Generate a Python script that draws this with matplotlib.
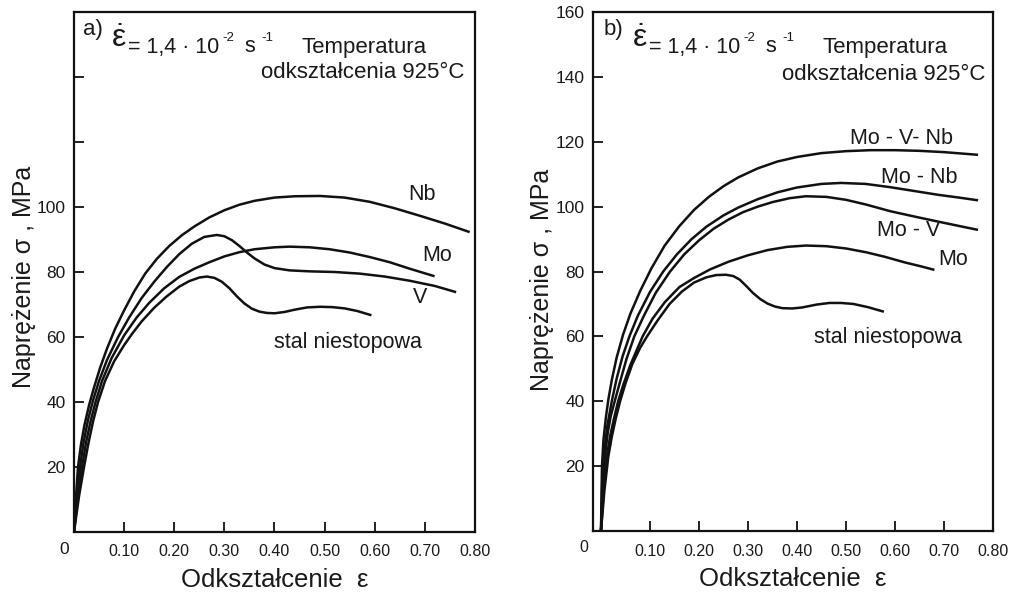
import matplotlib
matplotlib.use("Agg")
import matplotlib.pyplot as plt

plt.rcParams['font.family'] = ['Liberation Sans', 'DejaVu Sans']
plt.rcParams['mathtext.fontset'] = 'custom'
plt.rcParams['mathtext.rm'] = 'Liberation Sans'
plt.rcParams['mathtext.it'] = 'Liberation Sans:italic'
plt.rcParams['mathtext.bf'] = 'Liberation Sans:bold'

# ---------------- Data: panel a ----------------
a_nb_x = [0, 0.004, 0.008, 0.014, 0.021, 0.03, 0.04, 0.052, 0.066, 0.082, 0.1, 0.12, 0.142, 0.165, 0.19, 0.215, 0.24, 0.27, 0.3, 0.33, 0.36, 0.4, 0.44, 0.49, 0.54, 0.59, 0.64, 0.69, 0.74, 0.787]
a_nb_y = [0, 11, 20, 27, 33, 39, 44.5, 50.5, 56.5, 62.5, 68.2, 74, 79.5, 84, 88, 91.3, 94, 96.8, 99, 100.7, 101.9, 102.9, 103.3, 103.4, 102.9, 101.6, 99.6, 97.3, 94.9, 92.4]

a_v_x = [0, 0.006, 0.012, 0.019, 0.028, 0.038, 0.05, 0.066, 0.088, 0.11, 0.135, 0.16, 0.185, 0.21, 0.235, 0.26, 0.285, 0.3, 0.315, 0.33, 0.345, 0.36, 0.38, 0.4, 0.43, 0.47, 0.52, 0.57, 0.62, 0.67, 0.72, 0.76]
a_v_y = [0, 11, 20, 27.5, 34.5, 40.5, 46.5, 53, 60, 66, 72, 77, 81.5, 85.5, 88.7, 90.8, 91.4, 91.0, 89.8, 88, 86, 84.2, 82.3, 81.2, 80.5, 80.2, 80.0, 79.5, 78.6, 77.3, 75.7, 73.9]

a_mo_x = [0, 0.008, 0.016, 0.024, 0.033, 0.043, 0.056, 0.075, 0.1, 0.125, 0.15, 0.18, 0.21, 0.24, 0.27, 0.3, 0.33, 0.36, 0.4, 0.43, 0.47, 0.51, 0.55, 0.59, 0.63, 0.67, 0.717]
a_mo_y = [0, 11, 20, 27.5, 34, 40, 46.5, 53.5, 60.5, 66, 70.5, 75, 78.5, 81, 83, 84.8, 86.1, 87, 87.6, 87.8, 87.6, 87, 86, 84.6, 83, 81, 78.8]

a_st_x = [0, 0.01, 0.02, 0.029, 0.038, 0.048, 0.062, 0.08, 0.1, 0.116, 0.135, 0.16, 0.185, 0.21, 0.23, 0.25, 0.265, 0.28, 0.295, 0.31, 0.325, 0.34, 0.355, 0.37, 0.385, 0.4, 0.42, 0.44, 0.465, 0.491, 0.515, 0.54, 0.565, 0.591]
a_st_y = [0, 11, 20, 27.5, 34, 40, 46.5, 52.5, 57.5, 61, 64.8, 69, 72.5, 75.5, 77.2, 78.3, 78.6, 78.2, 77, 75, 72.5, 70.3, 68.7, 67.8, 67.4, 67.3, 67.7, 68.4, 69.1, 69.3, 69.2, 68.8, 68, 66.8]

# ---------------- Data: panel b ----------------
b_mvn_x = [0, 0.002, 0.005, 0.01, 0.015, 0.022, 0.032, 0.045, 0.06, 0.08, 0.103, 0.13, 0.16, 0.19, 0.22, 0.25, 0.28, 0.32, 0.36, 0.4, 0.45, 0.5, 0.55, 0.6, 0.65, 0.7, 0.767]
b_mvn_y = [0, 20, 28, 35, 40.5, 46.5, 53.5, 60.5, 67, 74, 81, 88, 94, 99, 103, 106.3, 109, 111.8, 113.9, 115.3, 116.5, 117.1, 117.4, 117.4, 117.2, 116.8, 116]

b_mn_x = [0, 0.003, 0.007, 0.013, 0.022, 0.032, 0.044, 0.058, 0.075, 0.1, 0.127, 0.155, 0.185, 0.215, 0.25, 0.28, 0.32, 0.36, 0.4, 0.45, 0.49, 0.54, 0.59, 0.64, 0.69, 0.73, 0.767]
b_mn_y = [0, 17, 25, 32.5, 40, 47, 53.8, 60, 66.3, 73.7, 80, 85.3, 90, 93.8, 97.3, 99.7, 102.3, 104.4, 105.9, 107, 107.3, 107, 106, 104.8, 103.6, 102.8, 102]

b_mv_x = [0, 0.004, 0.008, 0.014, 0.02, 0.028, 0.038, 0.052, 0.068, 0.088, 0.112, 0.141, 0.17, 0.2, 0.23, 0.26, 0.29, 0.32, 0.35, 0.385, 0.418, 0.46, 0.5, 0.542, 0.59, 0.644, 0.7, 0.767]
b_mv_y = [0, 14, 23, 30.5, 35.5, 40, 45.5, 53, 60, 66.5, 73.5, 80, 85.3, 89.6, 93.2, 96, 98.3, 100, 101.4, 102.6, 103.2, 103, 102.1, 100.6, 98.6, 96.8, 95, 92.9]

b_mo_x = [0, 0.006, 0.012, 0.019, 0.027, 0.035, 0.046, 0.06, 0.075, 0.085, 0.105, 0.13, 0.16, 0.19, 0.222, 0.26, 0.3, 0.34, 0.38, 0.418, 0.46, 0.5, 0.542, 0.58, 0.62, 0.65, 0.678]
b_mo_y = [0, 13.5, 23, 29.5, 35, 40, 45.3, 51.2, 56.5, 60, 65.4, 70.5, 75.2, 78, 80.6, 83, 85, 86.6, 87.6, 88, 87.8, 87.1, 85.9, 84.5, 82.8, 81.7, 80.6]

b_st_x = [0, 0.007, 0.015, 0.022, 0.03, 0.039, 0.05, 0.064, 0.08, 0.094, 0.115, 0.14, 0.165, 0.19, 0.215, 0.235, 0.255, 0.27, 0.283, 0.296, 0.31, 0.325, 0.34, 0.355, 0.37, 0.39, 0.41, 0.44, 0.466, 0.49, 0.515, 0.545, 0.575]
b_st_y = [0, 12.5, 23, 29, 34.6, 40, 45.5, 51.5, 56.5, 60, 64.8, 70, 73.8, 76.6, 78.2, 78.9, 79, 78.6, 77.5, 75.6, 73.4, 71.5, 70.1, 69.2, 68.7, 68.6, 68.9, 69.8, 70.3, 70.3, 70, 69, 67.7]

x_ticks = [0.1, 0.2, 0.3, 0.4, 0.5, 0.6, 0.7, 0.8]
x_ticklabels = ['0.10', '0.20', '0.30', '0.40', '0.50', '0.60', '0.70', '0.80']
a_y_ticks = [20, 40, 60, 80, 100, 120, 140]
a_y_ticklabels = ['20', '40', '60', '80', '100', '', '']
b_y_ticks = [20, 40, 60, 80, 100, 120, 140, 160]
b_y_ticklabels = ['20', '40', '60', '80', '100', '120', '140', '160']

W, H = 1012, 596
fig = plt.figure(figsize=(W / 100, H / 100), dpi=100)
TXT = '#1a1a1a'
LC = '#111111'


def ftext(px, py, s, **kw):
    fig.text(px / W, 1 - py / H, s, color=TXT, **kw)


def style(ax, yt, ytl, ylab_xy):
    ax.set_xticks(x_ticks)
    ax.set_xticklabels(x_ticklabels, fontsize=11.5, color=TXT)
    ax.set_yticks(yt)
    ax.set_yticklabels(ytl, fontsize=12.5, color=TXT)
    ax.tick_params(direction='in', length=7.5, width=1.3, color=LC, pad=6)
    ax.tick_params(axis='x', pad=9)
    for s in ax.spines.values():
        s.set_linewidth(1.6)
        s.set_color(LC)
    ax.set_ylim(0, 160)
    ax.set_xlabel('Odkształcenie  ε', fontsize=18.5, color=TXT, labelpad=6)
    ax.set_ylabel('Naprężenie σ , MPa', fontsize=18, color=TXT)
    ax.yaxis.set_label_coords(*ylab_xy)


lw = 1.8
# Panel a
axa = fig.add_axes([74 / W, 1 - 532 / H, 401 / W, 520 / H])
axa.plot(a_nb_x, a_nb_y, color=LC, lw=lw)
axa.plot(a_v_x, a_v_y, color=LC, lw=lw)
axa.plot(a_mo_x, a_mo_y, color=LC, lw=lw)
axa.plot(a_st_x, a_st_y, color=LC, lw=lw)
axa.set_xlim(0, 0.8)
style(axa, a_y_ticks, a_y_ticklabels, (-0.095, 0.49))
lab = dict(fontsize=15.5, color=TXT, ha='center', va='center')
axa.text(0.695, 103.7, 'Nb', **lab)
axa.text(0.725, 85.2, 'Mo', **lab)
axa.text(0.69, 72.3, 'V', **lab)
axa.text(0.547, 58.2, 'stal niestopowa', **lab)

# Panel b
axb = fig.add_axes([593 / W, 1 - 531 / H, 400 / W, 519 / H])
axb.plot(b_mvn_x, b_mvn_y, color=LC, lw=lw)
axb.plot(b_mn_x, b_mn_y, color=LC, lw=lw)
axb.plot(b_mv_x, b_mv_y, color=LC, lw=lw)
axb.plot(b_mo_x, b_mo_y, color=LC, lw=lw)
axb.plot(b_st_x, b_st_y, color=LC, lw=lw)
axb.set_xlim(-0.0163, 0.80)
style(axb, b_y_ticks, b_y_ticklabels, (-0.0975, 0.484))
axb.text(0.614, 121.1, 'Mo - V- Nb', **lab)
axb.text(0.649, 109.1, 'Mo - Nb', **lab)
axb.text(0.627, 92.5, 'Mo - V', **lab)
axb.text(0.718, 83.8, 'Mo', **lab)
axb.text(0.586, 59.8, 'stal niestopowa', **lab)

# "0" origin labels
ftext(64, 550, '0', fontsize=12.5, ha='center', va='center')
ftext(584, 548, '0', fontsize=11.5, ha='center', va='center')

# Headers
for (ox, lbl) in [(0, 'a)'), (521, 'b)')]:
    ftext(83 + ox, 30, lbl, fontsize=16, ha='left', va='center')
    ftext(119 + ox, 39, r'$\dot{\mathrm{ε}}$', fontsize=23, ha='center', va='center')
    ftext(128 + ox, 47, '= 1,4 · 10', fontsize=15.5, ha='left', va='center')
    ftext(222 + ox, 38, '-2', fontsize=9.5, ha='left', va='center')
    ftext(244 + ox, 47, 's', fontsize=15.5, ha='left', va='center')
    ftext(261 + ox, 38, '-1', fontsize=9.5, ha='left', va='center')

ftext(364, 47, 'Temperatura', fontsize=16, ha='center', va='center')
ftext(363, 73, 'odkształcenia 925°C', fontsize=16, ha='center', va='center')
ftext(885, 47, 'Temperatura', fontsize=16, ha='center', va='center')
ftext(884, 74, 'odkształcenia 925°C', fontsize=16, ha='center', va='center')

fig.savefig('out.png', dpi=100, facecolor='white')
